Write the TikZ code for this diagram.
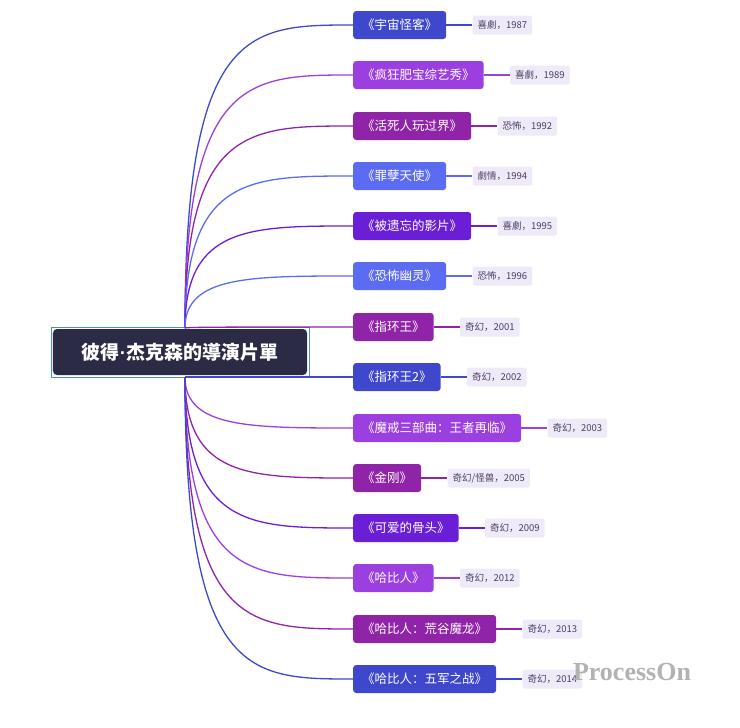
\documentclass[tikz,border=0pt]{standalone}
\usepackage{fontspec}
\setmainfont{Noto Sans CJK SC}
\newfontfamily\latinsans{Liberation Sans}
\usetikzlibrary{positioning}
\definecolor{cA}{HTML}{3F48CC}
\definecolor{cB}{HTML}{9B3FE0}
\definecolor{cC}{HTML}{9024A8}
\definecolor{cD}{HTML}{5B6BF2}
\definecolor{cE}{HTML}{6A1FD6}
\definecolor{rootbg}{HTML}{2B2B45}
\definecolor{rootbd}{HTML}{4A90D0}
\definecolor{tagbg}{HTML}{EEEAF8}
\definecolor{tagfg}{HTML}{4A3F66}
\tikzset{
 film/.style={rounded corners=3pt, text=white, font=\fontsize{12.5}{14}\selectfont, minimum height=28pt, inner xsep=9pt, anchor=west},
 tag/.style={rounded corners=2pt, fill=tagbg, text=tagfg, font=\fontsize{9.5}{11}\selectfont, minimum height=19pt, inner xsep=5pt, anchor=west},
 branch/.style={line width=1.3pt},
}
\begin{document}
\begin{tikzpicture}[x=1pt,y=-1pt]
\useasboundingbox (0,0) rectangle (740,728);
\node[draw=rootbd, line width=0.8pt, inner sep=2pt] (rootframe) at (180,352) {\tikz\node[fill=rootbg, rounded corners=4pt, text=white, font=\fontsize{19}{22}\selectfont\bfseries, minimum width=254pt, minimum height=46pt]{彼得{\latinsans\bfseries·}杰克森的導演片單};};
\coordinate (up) at (185,328);
\coordinate (dn) at (185,377);
\foreach \i/\y/\c/\t/\g in {
 1/25/cA/《宇宙怪客》/喜劇，1987,
 2/75/cB/《疯狂肥宝综艺秀》/喜劇，1989,
 3/126/cC/《活死人玩过界》/恐怖，1992,
 4/176/cD/《罪孽天使》/劇情，1994,
 5/226/cE/《被遗忘的影片》/喜劇，1995,
 6/276/cD/《恐怖幽灵》/恐怖，1996,
 7/327/cC/《指环王》/奇幻，2001,
 8/377/cA/《指环王2》/奇幻，2002,
 9/428/cB/《魔戒三部曲：王者再临》/奇幻，2003,
 10/478/cC/《金刚》/{奇幻/怪兽，2005},
 11/528/cE/《可爱的骨头》/奇幻，2009,
 12/578/cB/《哈比人》/奇幻，2012,
 13/629/cC/《哈比人：荒谷魔龙》/奇幻，2013,
 14/679/cA/《哈比人：五军之战》/奇幻，2014}{
 \node[film, fill=\c] (f\i) at (353,\y) {\t};
 \node[tag, right=26pt of f\i] (g\i) {\g};
 \draw[branch, draw=\c] (f\i.east) -- (g\i.west);
 \ifnum\i<8
  \draw[branch, draw=\c] (up) .. controls (185,\y) and (250,\y) .. (f\i.west);
 \else
  \draw[branch, draw=\c] (dn) .. controls (185,\y) and (250,\y) .. (f\i.west);
 \fi
}
\node[font=\fontsize{26}{28}\selectfont, text=gray!60] (wm) at (632,672) {\fontspec{Liberation Serif}\bfseries ProcessOn};
\end{tikzpicture}
\end{document}
